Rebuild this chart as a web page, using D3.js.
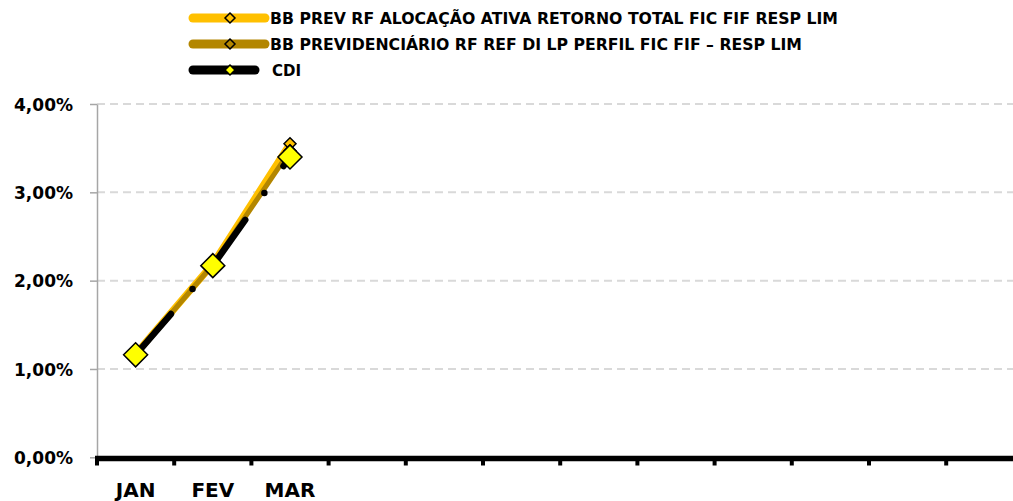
<!DOCTYPE html>
<html>
<head>
<meta charset="utf-8">
<script src="https://cdn.jsdelivr.net/npm/d3@7"></script>
<style>
  html, body { margin: 0; padding: 0; background: #fff; }
  svg { display: block; }
</style>
</head>
<body>
<div id="chart"></div>
<script>
// data
var months = ['JAN', 'FEV', 'MAR', 'ABR', 'MAI', 'JUN', 'JUL', 'AGO', 'SET', 'OUT', 'NOV', 'DEZ'];
var monthLabels = ['JAN', 'FEV', 'MAR'];
var yTicks = [0, 1, 2, 3, 4];
var seriesNames = [
  'BB PREV RF ALOCAÇÃO ATIVA RETORNO TOTAL FIC FIF RESP LIM',
  'BB PREVIDENCIÁRIO RF REF DI LP PERFIL FIC FIF – RESP LIM',
  'CDI'
];
var alocacao = [1.17, 2.19, 3.55];
var previdenciario = [1.16, 2.18, 3.47];
var cdi = [1.16, 2.17, 3.40];

var width = 1013, height = 501;
var margin = { left: 97, top: 104, bottom: 44 };
var bandW = 77.2;

var svg = d3.select('#chart').append('svg')
  .attr('width', width)
  .attr('height', height);

var x = d3.scaleBand()
  .domain(months)
  .range([margin.left, margin.left + bandW * months.length]);

var y = d3.scaleLinear()
  .domain([0, 4])
  .range([457.3, margin.top]);

// gridlines
svg.append('g').selectAll('line')
  .data(yTicks.filter(function (d) { return d > 0; }))
  .enter().append('line')
  .attr('x1', margin.left).attr('x2', width)
  .attr('y1', function (d) { return y(d); })
  .attr('y2', function (d) { return y(d); })
  .attr('stroke', '#d9d9d9')
  .attr('stroke-width', 2)
  .attr('stroke-dasharray', '8,5');

// y axis
var gy = svg.append('g')
  .attr('transform', 'translate(' + margin.left + ',0)')
  .call(d3.axisLeft(y).tickValues(yTicks).tickSizeInner(7).tickSizeOuter(0)
    .tickFormat(function (d) { return d3.format('.2f')(d).replace('.', ',') + '%'; }));
gy.selectAll('line, path').attr('stroke', '#a6a6a6').attr('stroke-width', 1.5);
gy.selectAll('text')
  .attr('x', -24)
  .attr('dy', '0.36em')
  .style('font-family', 'DejaVu Sans')
  .style('font-weight', 'bold')
  .style('font-size', '17px')
  .attr('fill', '#000');

// x axis (thick black)
var gx = svg.append('g')
  .attr('transform', 'translate(0,458.5)');
gx.append('line')
  .attr('x1', 95).attr('x2', width)
  .attr('stroke', '#000').attr('stroke-width', 5.5);
gx.selectAll('.mtick')
  .data(months)
  .enter().append('line')
  .attr('class', 'mtick')
  .attr('x1', function (d) { return x(d); })
  .attr('x2', function (d) { return x(d); })
  .attr('y1', 0).attr('y2', 7)
  .attr('stroke', '#000').attr('stroke-width', 4);
gx.selectAll('.mlabel')
  .data(monthLabels)
  .enter().append('text')
  .attr('class', 'mlabel')
  .attr('x', function (d) { return x(d) + x.bandwidth() / 2; })
  .attr('y', 38.5)
  .attr('text-anchor', 'middle')
  .attr('fill', '#000')
  .style('font-family', 'DejaVu Sans')
  .style('font-weight', 'bold')
  .style('font-size', '20px')
  .text(function (d) { return d; });

var line = d3.line()
  .x(function (d, i) { return x(months[i]) + x.bandwidth() / 2; })
  .y(function (d) { return y(d); });

function diamond(r) {
  return 'M0,' + (-r) + 'L' + r + ',0L0,' + r + 'L' + (-r) + ',0Z';
}

svg.append('path').attr('d', line(alocacao))
  .attr('fill', 'none').attr('stroke', '#ffc000').attr('stroke-width', 7)
  .attr('stroke-linejoin', 'round').attr('stroke-linecap', 'round');
svg.append('path').attr('d', line(previdenciario))
  .attr('fill', 'none').attr('stroke', '#b38600').attr('stroke-width', 5)
  .attr('stroke-linejoin', 'round').attr('stroke-linecap', 'round');
svg.append('path').attr('d', line(cdi))
  .attr('fill', 'none').attr('stroke', '#000').attr('stroke-width', 6.5)
  .attr('stroke-linecap', 'round')
  .attr('stroke-dasharray', '54,33,0,33');

function markers(data, r, fill) {
  svg.append('g').selectAll('path')
    .data(data)
    .enter().append('path')
    .attr('transform', function (d, i) {
      return 'translate(' + (x(months[i]) + x.bandwidth() / 2) + ',' + y(d) + ')';
    })
    .attr('d', diamond(r))
    .attr('fill', fill)
    .attr('stroke', '#000')
    .attr('stroke-width', 1.5);
}
markers(alocacao, 6, '#ffc000');
markers(previdenciario, 6, '#b38600');
markers(cdi, 12, '#ffff00');

// legend
var legend = [
  { name: seriesNames[0], color: '#ffc000', mark: '#ffc000', y: 18, x2: 265, len: 568 },
  { name: seriesNames[1], color: '#b38600', mark: '#b38600', y: 44, x2: 265, len: 532 },
  { name: seriesNames[2], color: '#000', mark: '#ffff00', y: 70, x2: 255, len: 0 }
];
var lg = svg.append('g');
legend.forEach(function (d) {
  lg.append('line')
    .attr('x1', 193).attr('x2', d.x2)
    .attr('y1', d.y).attr('y2', d.y)
    .attr('stroke', d.color).attr('stroke-width', 9)
    .attr('stroke-linecap', 'round');
  lg.append('path')
    .attr('transform', 'translate(230,' + d.y + ')')
    .attr('d', diamond(5))
    .attr('fill', d.mark).attr('stroke', '#000').attr('stroke-width', 1.5);
  var t = lg.append('text')
    .attr('x', d.x2 === 255 ? 272 : 270)
    .attr('y', d.y + 6)
    .style('font-family', 'DejaVu Sans')
    .style('font-weight', 'bold')
    .style('font-size', '15px')
    .text(d.name);
  if (d.len) {
    t.attr('textLength', d.len).attr('lengthAdjust', 'spacingAndGlyphs');
  }
});
</script>
</body>
</html>
